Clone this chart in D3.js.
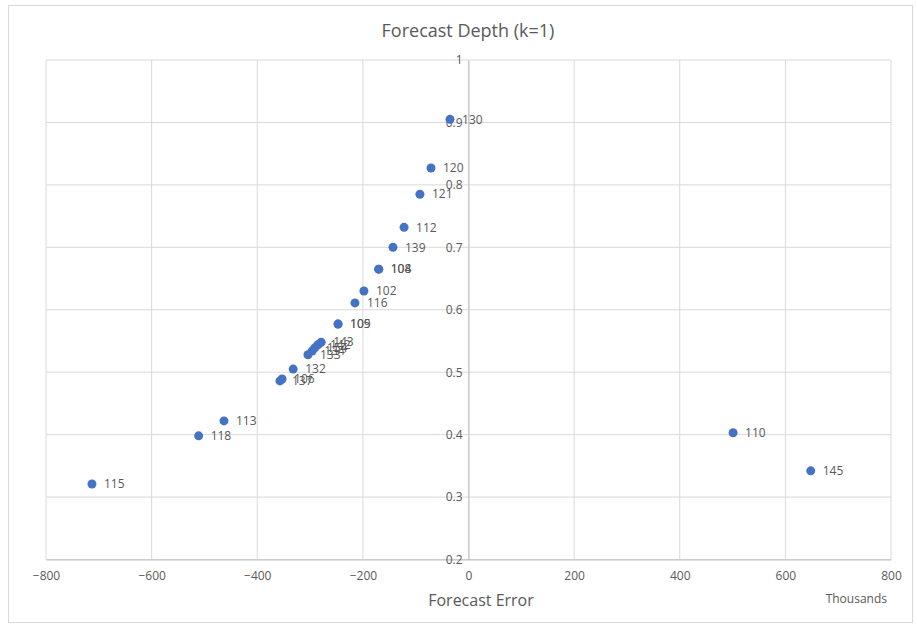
<!DOCTYPE html>
<html><head><meta charset="utf-8">
<script src="https://cdn.jsdelivr.net/npm/d3@7"></script>
<style>body{margin:0;background:#fff;font-family:"Open Sans",sans-serif;}</style>
</head><body>
<svg id="chart" width="917" height="625"></svg>
<script>
const labels = ["130","120","121","112","139","104","108","102","116","105","109","143","142","154","134","133","132","106","137","113","118","115","110","145"];
const errors = [-35,-71,-92,-122,-143,-170,-170,-198,-215,-247,-247,-279,-285,-291,-296,-304,-332,-353,-357,-463,-511,-713,501,648];
const depths = [0.905,0.827,0.785,0.732,0.700,0.665,0.665,0.630,0.611,0.577,0.577,0.548,0.544,0.539,0.534,0.528,0.505,0.489,0.486,0.422,0.398,0.321,0.403,0.342];
const xTicks = [-800,-600,-400,-200,0,200,400,600,800];
const yTicks = [0.2,0.3,0.4,0.5,0.6,0.7,0.8,0.9,1];

const svg = d3.select("#chart");
const text = "#595959", grid = "#d9d9d9", dot = "#4472C4";
svg.append("rect").attr("x",8.5).attr("y",5.5).attr("width",904).attr("height",617).attr("fill","#fff").attr("stroke","#d9d9d9");

const x = d3.scaleLinear().domain([-800,800]).range([46,891]);
const y = d3.scaleLinear().domain([0.2,1]).range([559.5,60]);

const g = svg.append("g");
g.selectAll("line.vg").data(xTicks).join("line").attr("class","vg")
  .attr("x1",d=>x(d)).attr("x2",d=>x(d)).attr("y1",y(1)).attr("y2",y(0.2))
  .attr("stroke",grid).attr("stroke-width",1);
g.selectAll("line.hg").data(yTicks).join("line").attr("class","hg")
  .attr("y1",d=>y(d)).attr("y2",d=>y(d)).attr("x1",x(-800)).attr("x2",x(800))
  .attr("stroke",grid).attr("stroke-width",1);

// x axis at bottom
const xAxis = d3.axisBottom(x).tickValues(xTicks).tickSize(0).tickPadding(12);
const xa = svg.append("g").attr("transform",`translate(0,${y(0.2)})`).call(xAxis);
xa.select(".domain").attr("stroke","#bfbfbf");
xa.selectAll("text").attr("fill",text).style("font-size","12px").style("font-family","'Open Sans',sans-serif");

// y axis at x=0
const yAxis = d3.axisLeft(y).tickValues(yTicks).tickSize(0).tickPadding(6).tickFormat(d=>d===1?"1":d3.format(".1f")(d));
const ya = svg.append("g").attr("transform",`translate(${x(0)},0)`).call(yAxis);
ya.select(".domain").attr("stroke","#bfbfbf");
ya.selectAll("text").attr("fill",text).style("font-size","12px").style("font-family","'Open Sans',sans-serif");

const data = labels.map((l,i)=>({l, e:errors[i], d:depths[i]}));
svg.append("g").selectAll("circle").data(data).join("circle")
  .attr("cx",d=>x(d.e)).attr("cy",d=>y(d.d)).attr("r",4.5).attr("fill",dot);
svg.append("g").selectAll("text").data(data).join("text")
  .attr("x",d=>x(d.e)+12).attr("y",d=>y(d.d)).attr("dy","0.35em")
  .attr("fill",text).style("font-size","12px").text(d=>d.l);

svg.append("text").attr("x",468).attr("y",37).attr("text-anchor","middle")
  .attr("fill",text).style("font-size","18px").text("Forecast Depth (k=1)");
svg.append("text").attr("x",481).attr("y",606).attr("text-anchor","middle")
  .attr("fill",text).style("font-size","16px").text("Forecast Error");
svg.append("text").attr("x",887).attr("y",603).attr("text-anchor","end")
  .attr("fill",text).style("font-size","12px").text("Thousands");
</script>
</body></html>
